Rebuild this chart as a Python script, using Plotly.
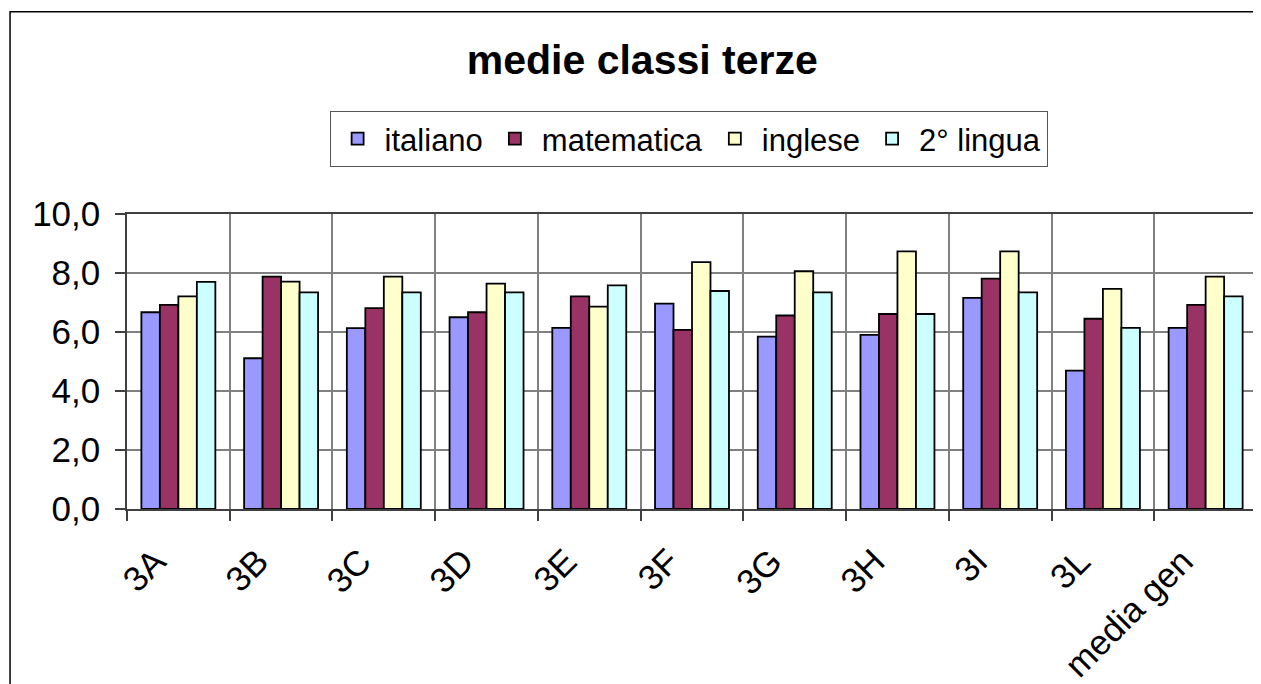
import plotly.graph_objects as go

# dati
classi = ['3A', '3B', '3C', '3D', '3E', '3F', '3G', '3H', '3I', '3L', 'media gen']
italiano = [6.67, 5.11, 6.13, 6.50, 6.14, 6.96, 5.84, 5.90, 7.16, 4.69, 6.14]
matematica = [6.92, 7.88, 6.81, 6.67, 7.21, 6.07, 6.56, 6.61, 7.81, 6.45, 6.92]
inglese = [7.21, 7.71, 7.88, 7.64, 6.86, 8.37, 8.06, 8.73, 8.73, 7.46, 7.88]
seconda_lingua = [7.70, 7.34, 7.34, 7.34, 7.58, 7.39, 7.34, 6.61, 7.34, 6.14, 7.21]

FONT = 'Arial, Liberation Sans, sans-serif'

series = [
    ('italiano', italiano, '#9999FF'),
    ('matematica', matematica, '#993366'),
    ('inglese', inglese, '#FFFFCC'),
    ('2° lingua', seconda_lingua, '#CCFFFF'),
]

fig = go.Figure()
for name, values, colour in series:
    fig.add_trace(go.Bar(
        x=classi,
        y=values,
        name=name,
        marker=dict(color=colour, line=dict(color='black', width=1.8))
    ))

# la pagina ha 8px di margine: i margini qui sotto ne tengono conto
fig.update_layout(
    width=1261,
    height=684,
    margin=dict(l=119, r=12, t=206, b=183, autoexpand=False),
    paper_bgcolor='white',
    plot_bgcolor='white',
    separators=',.',
    barmode='group',
    bargap=0.28,
    bargroupgap=0,
    font=dict(family=FONT, color='black', size=32),
    title=dict(
        text='<b>medie classi terze</b>',
        x=0.503, xanchor='center',
        y=0.925, yanchor='middle',
        font=dict(family=FONT, size=41, color='black')
    ),
    legend=dict(
        orientation='h',
        x=0.497, xanchor='center',
        y=1.254, yanchor='middle',
        bordercolor='#555555', borderwidth=1,
        bgcolor='white',
        itemwidth=44,
        font=dict(family=FONT, size=31, color='black'),
        traceorder='normal'
    ),
    showlegend=True
)

fig.update_xaxes(
    automargin=False,
    tickson='boundaries',
    showgrid=True, gridcolor='#808080', gridwidth=1.5,
    showline=True, linecolor='#404040', linewidth=1.5, mirror=True,
    ticks='outside', ticklen=10, tickcolor='#404040', tickwidth=1.5,
    tickangle=-45,
    ticklabelstandoff=16,
    ticklabelshift=-23,
    tickfont=dict(family=FONT, size=35, color='black')
)
fig.update_yaxes(
    automargin=False,
    range=[0, 10], dtick=2, tickformat='.1f',
    showgrid=True, gridcolor='#808080', gridwidth=1.5,
    showline=True, linecolor='#404040', linewidth=1.5, mirror=True,
    ticks='outside', ticklen=10, tickcolor='#404040', tickwidth=1.5,
    ticklabelstandoff=8,
    zeroline=False,
    tickfont=dict(family=FONT, size=35, color='black')
)

# cornice dell'area del grafico (tagliata a destra e in basso)
fig.add_shape(
    type='rect', xref='paper', yref='paper',
    x0=-0.1035, x1=1.2, y0=-1.0, y1=1.686,
    line=dict(color='black', width=1.5),
    layer='below'
)

fig.write_html("out.html")
